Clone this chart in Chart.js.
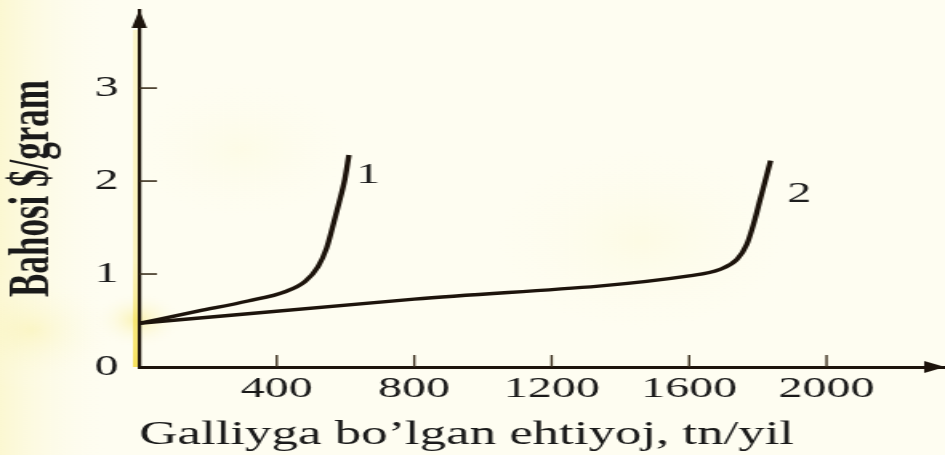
<!DOCTYPE html>
<html><head><meta charset="utf-8">
<script src="https://cdn.jsdelivr.net/npm/chart.js@4/dist/chart.umd.min.js"></script>
<style>
html,body{margin:0;padding:0;background:#fdfcee;overflow:hidden;width:945px;height:455px;}
#wrap{width:945px;height:455px;overflow:hidden;position:relative;}
#c{transform:scaleX(1.60169);transform-origin:0 0;display:block;}
</style></head><body>
<div id="wrap"><canvas id="c" width="590" height="455"></canvas></div>
<script>
// ---- data ----
const curve1X = [0, 170, 316, 424, 482, 520, 545, 562, 580, 598, 610];
const curve1Y = [0.47, 0.60, 0.71, 0.81, 0.92, 1.08, 1.28, 1.50, 1.75, 2.02, 2.28];
const curve2X = [0, 800, 1600, 1690, 1740, 1768, 1787, 1808, 1837];
const curve2Y = [0.47, 0.73, 0.98, 1.05, 1.16, 1.32, 1.53, 1.82, 2.22];
const seriesNames = ['1', '2'];
const xTickValues = [400, 800, 1200, 1600, 2000];
const yTickValues = [0, 1, 2, 3];
const xAxisTitle = 'Galliyga bo’lgan ehtiyoj, tn/yil';
const yAxisTitle = 'Bahosi $/gram';

const INK = '#1d140c';
const SERIF = "'Liberation Serif', 'Times New Roman', serif";

function pts(xs, ys) { return xs.map((x, i) => ({x: x, y: ys[i]})); }

const bgPlugin = {
  id: 'paper',
  beforeDraw(chart) {
    const ctx = chart.ctx, w = chart.width, h = chart.height, a = chart.chartArea;
    ctx.save();
    ctx.fillStyle = '#fefdf1';
    ctx.fillRect(0, 0, w, h);
    // faint yellow wash on the left strip
    const lg = ctx.createLinearGradient(0, 0, 80, 0);
    lg.addColorStop(0, 'rgba(250,243,185,0.55)');
    lg.addColorStop(1, 'rgba(255,255,255,0)');
    ctx.fillStyle = lg;
    ctx.fillRect(0, 0, 80, h);
    const blobs = [
      [86, 320, 30, 'rgba(246,230,100,0.45)'],
      [20, 330, 60, 'rgba(248,238,150,0.35)'],
      [400, 240, 120, 'rgba(251,247,200,0.30)'],
      [150, 150, 90, 'rgba(251,247,200,0.25)']
    ];
    blobs.forEach(b => {
      const g = ctx.createRadialGradient(b[0], b[1], 0, b[0], b[1], b[2]);
      g.addColorStop(0, b[3]);
      g.addColorStop(1, 'rgba(255,255,255,0)');
      ctx.fillStyle = g;
      ctx.fillRect(b[0] - b[2], b[1] - b[2], b[2] * 2, b[2] * 2);
    });
    // yellowish glow along the vertical axis
    const vg = ctx.createLinearGradient(0, a.top, 0, a.bottom);
    vg.addColorStop(0, 'rgba(245,225,90,0.25)');
    vg.addColorStop(0.7, 'rgba(245,225,90,0.35)');
    vg.addColorStop(1, 'rgba(243,215,40,0.75)');
    ctx.fillStyle = vg;
    ctx.fillRect(a.left - 4, a.top + 20, 4, a.bottom - a.top - 20);
    ctx.restore();
  }
};

const decoPlugin = {
  id: 'deco',
  afterDraw(chart) {
    const ctx = chart.ctx, xs = chart.scales.x, ys = chart.scales.y, a = chart.chartArea;
    ctx.save();
    // inward tick marks
    ctx.strokeStyle = '#3a2e1c';
    ctx.lineWidth = 1.4;
    xTickValues.forEach(v => {
      const px = xs.getPixelForValue(v);
      ctx.beginPath(); ctx.moveTo(px, a.bottom); ctx.lineTo(px, a.bottom - 12); ctx.stroke();
    });
    ctx.lineWidth = 1.6;
    yTickValues.filter(v => v > 0).forEach(v => {
      const py = ys.getPixelForValue(v);
      ctx.beginPath(); ctx.moveTo(a.left, py); ctx.lineTo(a.left + 11, py); ctx.stroke();
    });
    // arrowheads
    ctx.fillStyle = INK;
    ctx.beginPath();
    ctx.moveTo(a.left, a.top);
    ctx.lineTo(a.left - 4.8, a.top + 18);
    ctx.lineTo(a.left + 4.8, a.top + 18);
    ctx.closePath(); ctx.fill();
    ctx.beginPath();
    ctx.moveTo(a.right + 1, a.bottom);
    ctx.lineTo(a.right - 12, a.bottom - 6);
    ctx.lineTo(a.right - 12, a.bottom + 6);
    ctx.closePath(); ctx.fill();
    // curve labels near the end of each curve
    ctx.font = '30px ' + SERIF;
    ctx.fillStyle = '#1e1e1e';
    ctx.textAlign = 'center';
    ctx.textBaseline = 'middle';
    chart.data.datasets.forEach((ds, i) => {
      const meta = chart.getDatasetMeta(i);
      const last = meta.data[meta.data.length - 1];
      const off = ds.labelOffset;
      ctx.fillText(ds.label, last.x + off[0], last.y + off[1]);
    });
    ctx.restore();
  }
};

new Chart(document.getElementById('c'), {
  type: 'line',
  data: {
    datasets: [
      { label: seriesNames[0], data: pts(curve1X, curve1Y), borderColor: INK, borderWidth: 3.4,
        pointRadius: 0, cubicInterpolationMode: 'monotone', fill: false, labelOffset: [12, 20] },
      { label: seriesNames[1], data: pts(curve2X, curve2Y), borderColor: INK, borderWidth: 3.4,
        pointRadius: 0, cubicInterpolationMode: 'monotone', fill: false, labelOffset: [18, 34] }
    ]
  },
  options: {
    responsive: false,
    animation: false,
    devicePixelRatio: 1,
    layout: { padding: { top: 10, right: 1, left: 0, bottom: 0 } },
    plugins: { legend: { display: false }, tooltip: { enabled: false } },
    scales: {
      x: {
        type: 'linear', min: 0, max: 2340, position: 'bottom',
        afterBuildTicks: s => { s.ticks = xTickValues.map(v => ({ value: v })); },
        ticks: { font: { family: SERIF, size: 30 }, color: '#1a1a1a', padding: 4, maxRotation: 0, autoSkip: false,
                 callback: v => String(v) },
        grid: { display: false, drawTicks: false },
        border: { display: true, color: INK, width: 3 },
        title: { display: true, text: xAxisTitle, align: 'start', color: '#1a1a1a',
                 font: { family: SERIF, size: 33 }, padding: { top: 0, bottom: 0 } },
        afterFit: s => { s.height = 88; s.paddingLeft = 0; s.paddingRight = 0; }
      },
      y: {
        type: 'linear', min: 0, max: 3.84,
        afterBuildTicks: s => { s.ticks = yTickValues.map(v => ({ value: v })); },
        ticks: { font: { family: SERIF, size: 30 }, color: '#1a1a1a', padding: 13, callback: v => String(v) },
        grid: { display: false, drawTicks: false },
        border: { display: true, color: INK, width: 2.2 },
        title: { display: true, text: yAxisTitle, color: '#1a1a1a',
                 font: { family: SERIF, size: 35, weight: 'bold' }, padding: { top: 0, bottom: 0 } },
        afterFit: s => { s.width = 87; s.paddingTop = 0; s.paddingBottom = 0; }
      }
    }
  },
  plugins: [bgPlugin, decoPlugin]
});
</script>
</body></html>
